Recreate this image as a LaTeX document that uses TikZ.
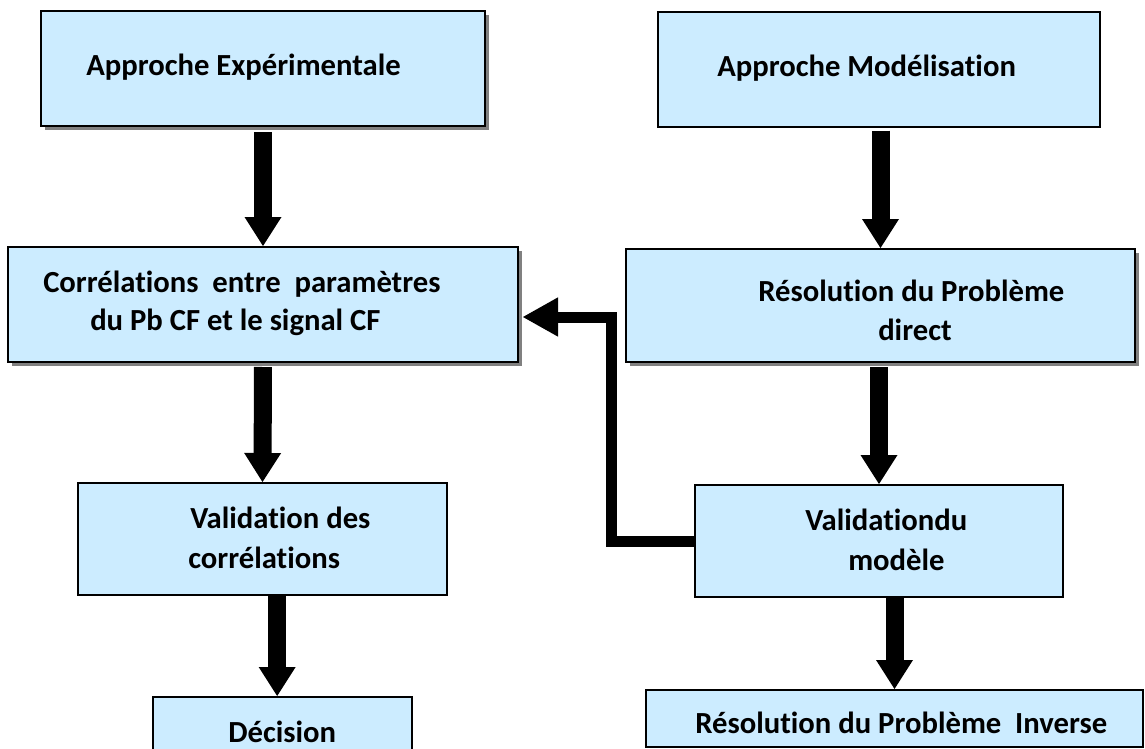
\documentclass[tikz,border=0pt]{standalone}
\usepackage{fontspec}
\setmainfont{Carlito}[Ligatures={NoCommon,NoContextual},Contextuals=NoAlternate,RawFeature={-liga,-calt,-clig,-dlig}]
\usetikzlibrary{arrows.meta,shadows}
\definecolor{boxblue}{HTML}{CCECFF}
\definecolor{shadegray}{HTML}{808080}
\tikzset{
  boxst/.style={draw=black, line width=1.5pt, fill=boxblue, rectangle, inner sep=0pt},
  shadowed/.style={general shadow={fill=shadegray, shadow xshift=3pt, shadow yshift=-3pt}},
  txt/.style={anchor=base west, inner sep=0pt, font=\fontsize{23}{28}\selectfont\bfseries},
  blk/.style={line width=13.5pt, -{Triangle[width=27.75pt,length=21.75pt,line width=0pt]}},
  fbk/.style={line width=8.25pt, line join=miter, -{Triangle[width=29.5pt,length=26.25pt,line width=0pt]}}
}
\newcommand{\mybox}[6]{\node[boxst,#6, minimum width=#4*0.75pt, minimum height=#5*0.75pt] (#1) at (#2,#3) {};}
\begin{document}
\begin{tikzpicture}[x=0.75pt,y=-0.75pt]
\useasboundingbox (0,0) rectangle (1145,749);
\clip (0,0) rectangle (1145,749);
% boxes
\mybox{b1}{263}{68.5}{444}{115}{shadowed}
\mybox{b2}{879}{69.5}{442}{115}{}
\mybox{b3}{263}{304.5}{510}{115}{shadowed}
\mybox{b4}{880.5}{305.5}{509}{113}{shadowed}
\mybox{b5}{262.5}{539}{369}{112}{}
\mybox{b6}{879}{541}{368}{112}{}
\mybox{b7}{282.5}{733.5}{259}{73}{}
\mybox{b8}{894.5}{718.5}{497}{57}{}
% texts
\node[txt] (t1) at (86,75) {Approche Expérimentale};
\node[txt] (t2) at (717,77) {Approche Modélisation};
\node[txt] (t3a) at (43,292) {Corrélations\ \ entre\ \ paramètres};
\node[txt] (t3b) at (90,330) {du Pb CF et le signal CF};
\node[txt] (t4a) at (758,301) {Résolution du Problème};
\node[txt] (t4b) at (878,340) {direct};
\node[txt] (t5a) at (190,528) {Validation des};
\node[txt] (t5b) at (188,568) {corrélations};
\node[txt] (t6a) at (805,530) {Validationdu};
\node[txt] (t6b) at (848,570) {modèle};
\node[txt] (t7) at (228,742) {Décision};
\node[txt] (t8) at (695,733) {Résolution du Problème\ \ Inverse};
% connectors
\draw[blk, shorten <=4pt] (b1.south) -- (b3.north);
\draw[blk, shorten <=2pt] (b4.north |- b2.south) -- (b4.north);
\draw[blk, shorten <=3pt] (b3.south) -- (b5.north);
\draw[blk, shorten <=3pt] (b6.north |- b4.south) -- (b6.north);
\draw[blk] ([xshift=-4pt]b5.south -| b7.north) -- ([xshift=-4pt]b7.north);
\draw[blk] (b8.north |- b6.south) -- (b8.north);
\coordinate (fbc) at (611,317);
\draw[fbk, shorten >=3pt] (b6.west) -| (fbc) -- (fbc -| b3.east);
\end{tikzpicture}
\end{document}
